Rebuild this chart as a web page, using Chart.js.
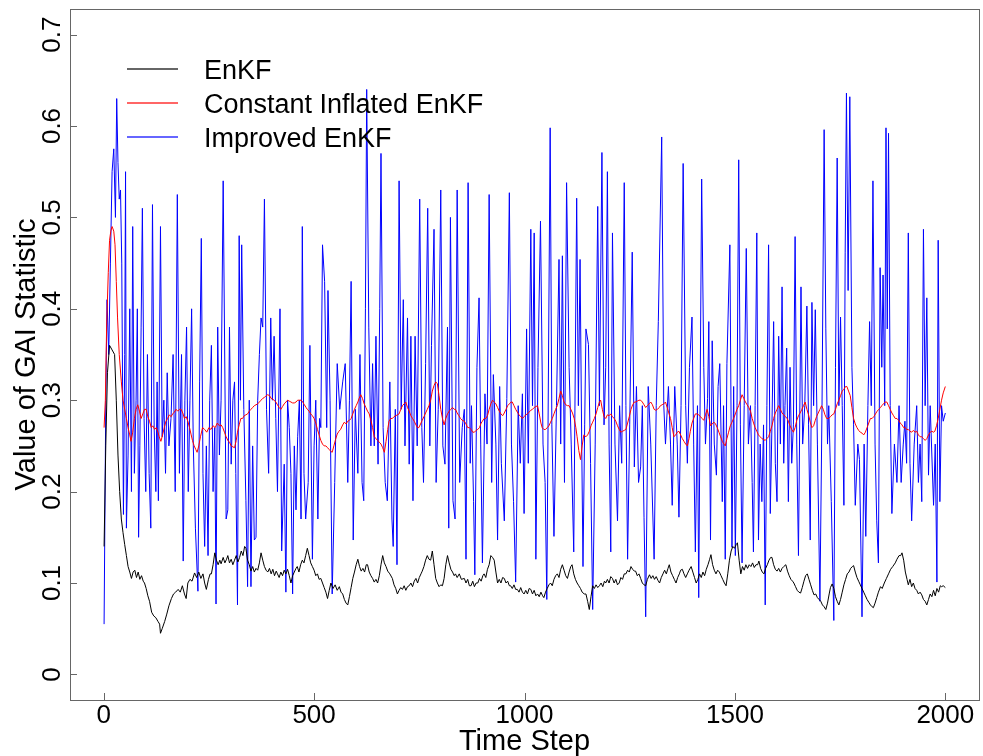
<!DOCTYPE html>
<html>
<head>
<meta charset="utf-8">
<title>GAI statistic</title>
<script src="https://cdn.jsdelivr.net/npm/chart.js@4.4.1/dist/chart.umd.min.js"></script>
<style>
  html, body { margin: 0; padding: 0; background: #fff; }
  #wrap { width: 983px; height: 756px; }
</style>
</head>
<body>
<div id="wrap"><canvas id="gai"></canvas></div>
<script>
const xTicks = [0, 500, 1000, 1500, 2000];
const yTicks = [0, 0.1, 0.2, 0.3, 0.4, 0.5, 0.6, 0.7];
const seriesLabels = ['EnKF', 'Constant Inflated EnKF', 'Improved EnKF'];
const seriesColors = ['#000000', '#ff0000', '#0000ff'];
const xTitle = 'Time Step';
const yTitle = 'Value of GAI Statistic';

// [time step, value]
const enkf = [
  [1,.14],[5,.25],[9,.33],[14,.36],[20,.355],[26,.35],[30,.30],[34,.24],[38,.20],[42,.17],
  [46,.155],[50,.142],[54,.13],[58,.118],[62,.112],[66,.105],[70,.112],[74,.114],[78,.106],[82,.112],
  [86,.104],[90,.108],[94,.102],[97,.10],[101,.094],[105,.086],[109,.08],[114,.068],[119,.064],[124,.062],
  [129,.058],[133,.055],[135,.045],[139,.05],[145,.058],[150,.066],[155,.075],[161,.083],[166,.088],[171,.09],
  [177,.093],[182,.09],[187,.097],[192,.088],[196,.083],[200,.10],[205,.104],[210,.102],[216,.111],[221,.106],
  [226,.112],[231,.105],[236,.11],[240,.10],[244,.093],[249,.104],[253,.11],[256,.11],[260,.12],[264,.133],
  [268,.125],[272,.12],[276,.125],[279,.121],[284,.128],[288,.122],[292,.126],[295,.13],[299,.122],[303,.126],
  [307,.12],[311,.125],[315,.13],[319,.123],[323,.128],[327,.135],[331,.13],[335,.14],[338,.138],[342,.125],
  [346,.12],[350,.113],[354,.118],[358,.112],[362,.116],[366,.114],[370,.122],[374,.133],[378,.125],[382,.118],
  [386,.114],[390,.112],[394,.116],[398,.11],[402,.115],[406,.108],[410,.113],[413,.11],[417,.106],[421,.112],
  [425,.108],[429,.114],[433,.11],[437,.115],[441,.108],[445,.10],[449,.108],[453,.112],[457,.116],[460,.118],
  [464,.112],[468,.12],[472,.125],[476,.122],[480,.13],[484,.138],[488,.13],[492,.122],[496,.118],[500,.114],
  [504,.108],[508,.11],[512,.104],[516,.105],[520,.10],[524,.095],[528,.09],[532,.083],[536,.092],[540,.10],
  [545,.094],[550,.098],[555,.092],[560,.096],[564,.09],[568,.088],[572,.082],[576,.078],[580,.076],[584,.085],
  [588,.095],[592,.105],[596,.112],[600,.12],[604,.126],[608,.118],[612,.113],[616,.116],[620,.112],[624,.12],
  [627,.12],[631,.112],[635,.108],[639,.105],[643,.101],[647,.104],[651,.10],[655,.108],[659,.12],[663,.13],
  [667,.122],[671,.118],[675,.113],[680,.11],[686,.105],[690,.098],[694,.094],[698,.088],[702,.092],[706,.095],
  [710,.093],[714,.097],[718,.092],[722,.096],[726,.097],[730,.10],[734,.096],[738,.102],[742,.105],[746,.10],
  [750,.106],[754,.11],[757,.113],[761,.118],[765,.125],[769,.13],[773,.126],[777,.125],[781,.135],[785,.12],
  [789,.105],[793,.10],[797,.096],[801,.098],[805,.097],[809,.105],[813,.12],[817,.13],[821,.122],[825,.115],
  [829,.112],[833,.108],[836,.11],[840,.106],[845,.11],[850,.104],[857,.105],[861,.10],[865,.104],[869,.097],
  [873,.097],[877,.102],[881,.096],[885,.10],[889,.10],[893,.105],[897,.102],[901,.108],[904,.11],[908,.106],
  [912,.115],[916,.12],[920,.13],[924,.128],[928,.125],[932,.112],[936,.10],[940,.104],[944,.10],[948,.106],
  [952,.105],[956,.10],[960,.102],[964,.097],[967,.097],[971,.094],[975,.098],[979,.093],[983,.093],[987,.09],
  [991,.095],[995,.09],[999,.088],[1003,.092],[1007,.088],[1011,.094],[1015,.093],[1019,.088],[1023,.092],[1027,.086],
  [1031,.088],[1035,.085],[1039,.09],[1043,.086],[1046,.084],[1050,.09],[1054,.094],[1058,.098],[1062,.10],[1066,.097],
  [1070,.104],[1074,.108],[1078,.11],[1082,.106],[1086,.115],[1090,.12],[1094,.114],[1098,.108],[1102,.105],[1106,.112],
  [1110,.118],[1113,.12],[1117,.11],[1121,.104],[1125,.10],[1129,.097],[1133,.094],[1137,.09],[1142,.088],[1146,.088],
  [1150,.08],[1154,.071],[1158,.085],[1162,.097],[1166,.094],[1170,.098],[1174,.095],[1178,.097],[1182,.10],[1186,.096],
  [1190,.102],[1193,.10],[1197,.104],[1201,.10],[1205,.107],[1209,.105],[1213,.10],[1217,.104],[1221,.098],[1225,.10],
  [1229,.106],[1233,.104],[1237,.11],[1241,.11],[1245,.114],[1249,.112],[1253,.118],[1257,.115],[1261,.113],[1264,.113],
  [1268,.108],[1272,.11],[1276,.105],[1280,.10],[1284,.098],[1288,.097],[1292,.104],[1297,.109],[1301,.105],[1305,.108],
  [1309,.104],[1313,.107],[1317,.103],[1321,.10],[1325,.106],[1329,.11],[1333,.114],[1337,.11],[1341,.116],[1344,.12],
  [1348,.112],[1352,.108],[1356,.104],[1360,.10],[1364,.106],[1368,.11],[1371,.114],[1375,.115],[1379,.11],[1383,.106],
  [1387,.11],[1391,.114],[1396,.118],[1400,.112],[1404,.106],[1408,.10],[1412,.104],[1416,.11],[1420,.106],[1424,.112],
  [1428,.108],[1432,.115],[1436,.12],[1440,.126],[1443,.131],[1447,.12],[1451,.114],[1455,.11],[1459,.114],[1463,.112],
  [1467,.108],[1471,.104],[1475,.10],[1479,.097],[1483,.11],[1487,.125],[1491,.135],[1495,.14],[1499,.138],[1503,.142],
  [1506,.144],[1510,.125],[1514,.11],[1518,.118],[1522,.114],[1526,.12],[1530,.116],[1534,.12],[1538,.118],[1542,.122],
  [1546,.117],[1550,.12],[1554,.12],[1557,.124],[1561,.116],[1565,.112],[1569,.11],[1573,.116],[1577,.12],[1581,.125],
  [1585,.128],[1588,.128],[1592,.12],[1596,.115],[1600,.113],[1604,.116],[1608,.112],[1612,.116],[1616,.118],[1621,.12],
  [1625,.113],[1629,.108],[1633,.104],[1637,.102],[1640,.10],[1644,.096],[1648,.092],[1652,.09],[1656,.089],[1660,.095],
  [1664,.102],[1668,.108],[1672,.11],[1676,.104],[1680,.098],[1684,.092],[1688,.087],[1692,.088],[1696,.084],[1700,.082],
  [1704,.08],[1708,.076],[1712,.074],[1716,.071],[1720,.078],[1724,.088],[1727,.095],[1731,.099],[1735,.094],[1739,.085],
  [1743,.08],[1747,.076],[1751,.082],[1755,.09],[1759,.098],[1763,.104],[1767,.11],[1771,.112],[1775,.116],[1779,.118],
  [1782,.119],[1786,.112],[1790,.106],[1794,.102],[1798,.098],[1802,.094],[1806,.09],[1810,.086],[1814,.082],[1818,.079],
  [1822,.076],[1826,.074],[1829,.073],[1833,.078],[1837,.084],[1841,.09],[1846,.096],[1850,.094],[1855,.10],[1860,.105],
  [1865,.11],[1870,.115],[1875,.118],[1881,.122],[1885,.126],[1890,.13],[1894,.13],[1897,.133],[1901,.125],[1905,.112],
  [1909,.104],[1912,.098],[1916,.104],[1920,.096],[1924,.10],[1928,.094],[1932,.092],[1936,.088],[1940,.09],[1944,.087],
  [1948,.082],[1952,.08],[1956,.076],[1960,.082],[1964,.088],[1968,.085],[1972,.092],[1976,.086],[1980,.094],[1984,.09],
  [1988,.097],[1991,.096],[1995,.097],[2000,.095]
];

const inflated = [
  [1,.27],[4,.30],[7,.38],[11,.44],[14,.475],[17,.485],[20,.49],[24,.485],[27,.47],[30,.43],
  [33,.39],[37,.35],[42,.32],[46,.30],[50,.29],[54,.28],[58,.27],[62,.262],[65,.255],[69,.265],
  [73,.28],[77,.29],[81,.295],[85,.288],[89,.28],[93,.285],[97,.29],[101,.29],[105,.282],[109,.277],
  [113,.27],[117,.272],[121,.268],[125,.27],[129,.265],[132,.26],[136,.255],[140,.262],[144,.27],[148,.277],
  [152,.28],[156,.284],[160,.282],[164,.285],[168,.287],[172,.29],[176,.288],[180,.29],[184,.29],[188,.286],
  [192,.28],[196,.282],[200,.277],[204,.27],[208,.262],[211,.256],[215,.25],[219,.246],[222,.243],[226,.25],
  [230,.26],[235,.27],[240,.268],[245,.265],[250,.27],[255,.268],[260,.272],[265,.27],[270,.275],[275,.272],
  [279,.273],[283,.27],[287,.265],[291,.26],[295,.256],[299,.254],[303,.25],[307,.249],[311,.248],[315,.256],
  [318,.265],[322,.273],[326,.28],[330,.28],[334,.283],[338,.284],[342,.285],[346,.288],[350,.29],[354,.292],
  [358,.294],[362,.295],[366,.296],[370,.298],[374,.30],[378,.302],[382,.303],[386,.305],[390,.306],[394,.305],
  [398,.302],[402,.301],[405,.30],[409,.298],[413,.295],[417,.292],[421,.29],[425,.293],[429,.296],[433,.298],
  [437,.30],[441,.299],[445,.298],[449,.297],[453,.297],[457,.298],[461,.30],[465,.30],[469,.30],[473,.298],
  [477,.295],[481,.292],[484,.29],[488,.288],[492,.285],[496,.283],[500,.28],[504,.275],[508,.268],[512,.262],
  [516,.256],[520,.252],[524,.25],[528,.25],[532,.248],[536,.246],[540,.244],[543,.243],[547,.25],[551,.257],
  [555,.263],[559,.266],[563,.268],[568,.273],[572,.276],[576,.274],[580,.277],[584,.278],[588,.28],[592,.285],
  [596,.29],[600,.294],[604,.298],[607,.302],[611,.306],[615,.302],[619,.296],[623,.292],[627,.288],[631,.285],
  [635,.278],[639,.27],[643,.26],[647,.258],[651,.256],[655,.254],[659,.252],[663,.248],[667,.243],[671,.255],
  [675,.268],[678,.277],[682,.28],[686,.28],[690,.282],[694,.283],[698,.284],[702,.285],[706,.29],[710,.294],
  [714,.296],[718,.298],[722,.292],[726,.288],[730,.283],[734,.28],[738,.277],[742,.273],[746,.27],[749,.27],
  [753,.274],[757,.278],[761,.282],[765,.286],[769,.29],[773,.294],[777,.30],[781,.31],[785,.316],[789,.32],
  [793,.318],[797,.305],[801,.29],[805,.28],[809,.273],[813,.28],[817,.285],[821,.288],[825,.29],[829,.292],
  [833,.29],[836,.29],[840,.286],[844,.283],[848,.28],[852,.278],[857,.277],[861,.274],[865,.27],[869,.27],
  [873,.268],[877,.265],[881,.265],[885,.267],[889,.268],[893,.27],[897,.275],[900,.277],[904,.28],[908,.28],
  [912,.283],[916,.29],[920,.296],[924,.30],[928,.298],[932,.296],[936,.292],[940,.288],[944,.285],[948,.283],
  [952,.286],[956,.29],[960,.294],[964,.296],[968,.298],[971,.298],[975,.294],[979,.29],[983,.287],[987,.284],
  [991,.282],[995,.28],[999,.282],[1003,.284],[1007,.285],[1011,.287],[1015,.289],[1019,.29],[1023,.292],[1027,.293],
  [1031,.294],[1035,.285],[1039,.275],[1042,.27],[1046,.268],[1050,.268],[1054,.27],[1058,.272],[1062,.276],[1066,.28],
  [1070,.285],[1074,.29],[1078,.294],[1082,.302],[1086,.31],[1090,.305],[1094,.298],[1098,.295],[1102,.294],[1106,.294],
  [1110,.29],[1114,.286],[1118,.28],[1122,.27],[1125,.26],[1129,.245],[1133,.235],[1137,.25],[1141,.262],[1146,.26],
  [1150,.262],[1154,.266],[1158,.272],[1162,.276],[1166,.28],[1170,.285],[1174,.292],[1178,.298],[1181,.30],[1185,.29],
  [1189,.282],[1193,.28],[1197,.284],[1201,.283],[1205,.285],[1209,.282],[1213,.28],[1217,.277],[1221,.272],[1225,.268],
  [1229,.265],[1233,.266],[1237,.267],[1241,.268],[1245,.275],[1249,.282],[1253,.29],[1257,.295],[1261,.298],[1264,.298],
  [1268,.299],[1272,.30],[1276,.30],[1280,.298],[1284,.295],[1288,.292],[1292,.294],[1296,.296],[1300,.298],[1304,.295],
  [1308,.29],[1312,.289],[1316,.29],[1320,.292],[1323,.294],[1327,.295],[1331,.296],[1335,.298],[1339,.292],[1343,.286],
  [1347,.28],[1351,.27],[1355,.26],[1359,.262],[1363,.265],[1367,.266],[1371,.262],[1375,.258],[1379,.255],[1383,.252],
  [1387,.25],[1391,.258],[1394,.266],[1398,.275],[1402,.28],[1406,.285],[1410,.285],[1414,.284],[1418,.282],[1422,.28],
  [1426,.278],[1430,.284],[1434,.29],[1438,.282],[1442,.272],[1446,.274],[1450,.276],[1454,.274],[1458,.27],[1462,.265],
  [1466,.26],[1470,.255],[1474,.252],[1477,.25],[1481,.258],[1485,.265],[1489,.272],[1493,.276],[1497,.28],[1501,.285],
  [1505,.29],[1509,.294],[1513,.30],[1517,.306],[1521,.302],[1525,.298],[1529,.295],[1533,.292],[1537,.288],[1541,.28],
  [1545,.274],[1548,.27],[1552,.266],[1556,.262],[1560,.26],[1564,.258],[1568,.257],[1572,.256],[1576,.258],[1580,.26],
  [1584,.266],[1588,.272],[1592,.28],[1596,.286],[1600,.29],[1604,.294],[1608,.29],[1612,.286],[1616,.284],[1620,.282],
  [1624,.28],[1627,.277],[1631,.272],[1635,.268],[1639,.265],[1643,.27],[1647,.278],[1651,.283],[1655,.286],[1659,.29],
  [1663,.294],[1667,.298],[1671,.29],[1675,.284],[1679,.276],[1683,.27],[1687,.272],[1691,.278],[1694,.282],[1698,.286],
  [1702,.29],[1706,.294],[1710,.29],[1714,.284],[1718,.28],[1723,.28],[1727,.282],[1731,.284],[1735,.285],[1739,.29],
  [1743,.296],[1747,.30],[1751,.305],[1755,.31],[1759,.312],[1763,.315],[1766,.315],[1770,.31],[1774,.305],[1778,.292],
  [1782,.28],[1786,.274],[1790,.27],[1794,.267],[1798,.265],[1802,.264],[1806,.262],[1810,.265],[1814,.27],[1818,.275],
  [1822,.28],[1826,.28],[1830,.282],[1834,.285],[1838,.288],[1842,.29],[1846,.292],[1849,.294],[1853,.296],[1857,.298],
  [1861,.298],[1865,.294],[1869,.29],[1873,.286],[1877,.283],[1881,.28],[1885,.28],[1889,.278],[1893,.275],[1897,.273],
  [1901,.27],[1905,.27],[1908,.268],[1912,.268],[1916,.266],[1920,.265],[1924,.267],[1928,.265],[1932,.266],[1936,.262],
  [1940,.26],[1944,.26],[1948,.258],[1952,.256],[1956,.258],[1960,.262],[1964,.265],[1968,.266],[1972,.265],[1975,.266],
  [1979,.272],[1983,.28],[1987,.29],[1991,.30],[1995,.308],[2000,.315]
];

const improved = [
  [1,.055],[5,.30],[8,.41],[12,.35],[16,.45],[20,.55],[24,.575],[28,.50],[31,.63],[34,.56],
  [37,.52],[40,.53],[43,.45],[47,.175],[50,.35],[52,.55],[54,.16],[58,.24],[62,.40],[66,.20],
  [69,.49],[73,.22],[77,.30],[80,.40],[83,.15],[86,.25],[89,.38],[92,.51],[96,.28],[100,.20],
  [104,.35],[108,.22],[112,.16],[116,.514],[120,.27],[124,.20],[127,.32],[130,.19],[135,.49],[139,.26],
  [143,.30],[147,.22],[151,.33],[155,.25],[160,.28],[165,.35],[170,.20],[175,.525],[180,.22],[185,.35],
  [189,.124],[193,.30],[197,.38],[201,.20],[205,.30],[209,.40],[213,.25],[218,.16],[224,.091],[228,.32],
  [232,.477],[236,.22],[240,.14],[244,.25],[248,.13],[252,.30],[256,.36],[260,.20],[264,.27],[267,.077],
  [271,.38],[275,.24],[279,.30],[284,.54],[291,.17],[295,.18],[299,.38],[303,.23],[307,.30],[311,.32],
  [314,.22],[318,.076],[322,.48],[325,.30],[328,.47],[333,.29],[338,.19],[342,.096],[346,.30],[350,.096],
  [354,.25],[358,.147],[362,.15],[366,.30],[370,.35],[374,.39],[378,.38],[382,.52],[387,.29],[392,.22],
  [397,.39],[401,.30],[405,.37],[409,.28],[413,.20],[419,.40],[423,.135],[429,.23],[433,.09],[437,.30],
  [441,.27],[445,.22],[449,.088],[453,.25],[457,.18],[461,.26],[465,.30],[469,.17],[472,.49],[476,.22],
  [480,.17],[486,.21],[490,.36],[496,.126],[500,.25],[504,.30],[509,.17],[513,.28],[516,.27],[520,.47],
  [525,.43],[530,.27],[533,.42],[538,.30],[543,.088],[549,.21],[555,.34],[561,.29],[568,.32],[574,.34],
  [580,.21],[584,.30],[588,.43],[593,.147],[598,.29],[604,.22],[609,.35],[614,.21],[618,.19],[622,.40],
  [625,.64],[630,.38],[635,.25],[639,.34],[643,.25],[647,.37],[652,.23],[656,.40],[659,.57],[664,.27],
  [669,.21],[674,.19],[680,.32],[685,.17],[688,.14],[693,.29],[697,.12],[702,.54],[707,.29],[712,.41],
  [716,.25],[722,.39],[726,.23],[730,.37],[735,.19],[740,.37],[745,.25],[751,.52],[756,.27],[760,.21],
  [765,.34],[770,.51],[775,.25],[779,.36],[785,.487],[790,.21],[795,.29],[801,.53],[806,.25],[811,.23],
  [817,.38],[820,.16],[824,.50],[830,.19],[835,.17],[840,.53],[846,.21],[852,.27],[857,.29],[861,.126],
  [866,.538],[871,.231],[874,.294],[879,.189],[882,.109],[887,.336],[892,.412],[896,.252],[900,.122],[906,.307],
  [911,.252],[916,.525],[922,.21],[926,.328],[932,.252],[936,.147],[941,.315],[945,.231],[952,.168],[958,.302],
  [964,.527],[969,.252],[974,.189],[979,.101],[985,.294],[990,.231],[995,.307],[999,.176],[1005,.378],[1009,.231],
  [1015,.487],[1019,.294],[1023,.483],[1027,.126],[1032,.336],[1038,.496],[1044,.252],[1049,.21],[1053,.082],[1061,.598],
  [1065,.273],[1070,.151],[1076,.294],[1082,.454],[1086,.252],[1090,.458],[1095,.21],[1100,.538],[1106,.336],[1111,.252],
  [1117,.134],[1124,.521],[1128,.294],[1132,.454],[1136,.252],[1139,.118],[1143,.273],[1146,.378],[1152,.361],[1157,.231],
  [1162,.071],[1168,.252],[1174,.512],[1178,.294],[1184,.571],[1189,.273],[1193,.336],[1197,.55],[1201,.252],[1205,.134],
  [1209,.483],[1215,.252],[1221,.168],[1226,.294],[1231,.231],[1237,.538],[1241,.294],[1245,.126],[1250,.273],[1256,.462],
  [1261,.227],[1266,.315],[1271,.21],[1276,.227],[1280,.294],[1284,.172],[1288,.063],[1294,.315],[1300,.252],[1308,.126],
  [1313,.294],[1318,.386],[1326,.588],[1331,.294],[1335,.252],[1342,.315],[1347,.252],[1351,.185],[1357,.315],[1363,.252],
  [1367,.172],[1372,.294],[1377,.559],[1383,.294],[1387,.231],[1392,.336],[1398,.391],[1402,.252],[1406,.134],[1411,.294],
  [1414,.084],[1421,.542],[1426,.336],[1430,.252],[1435,.302],[1438,.386],[1442,.147],[1446,.365],[1451,.252],[1456,.218],
  [1460,.315],[1464,.34],[1470,.189],[1473,.294],[1477,.126],[1481,.34],[1488,.47],[1493,.139],[1497,.315],[1501,.13],
  [1505,.294],[1509,.563],[1513,.273],[1517,.122],[1522,.294],[1527,.466],[1532,.252],[1537,.294],[1541,.21],[1544,.134],
  [1548,.294],[1552,.483],[1556,.147],[1560,.252],[1564,.189],[1568,.273],[1572,.076],[1576,.294],[1580,.47],[1584,.176],
  [1588,.273],[1592,.386],[1596,.231],[1600,.189],[1604,.37],[1608,.252],[1612,.424],[1616,.231],[1619,.294],[1623,.357],
  [1627,.189],[1631,.336],[1635,.231],[1639,.273],[1643,.479],[1647,.252],[1651,.13],[1657,.424],[1661,.252],[1666,.294],
  [1671,.403],[1675,.273],[1679,.147],[1683,.407],[1687,.294],[1691,.399],[1696,.252],[1702,.08],[1707,.294],[1712,.596],
  [1716,.378],[1720,.252],[1723,.294],[1729,.189],[1735,.059],[1739,.336],[1743,.565],[1747,.294],[1751,.391],[1755,.294],
  [1759,.185],[1762,.462],[1765,.636],[1769,.42],[1773,.632],[1778,.336],[1782,.273],[1786,.185],[1792,.252],[1796,.235],
  [1802,.063],[1807,.252],[1811,.151],[1816,.294],[1820,.386],[1824,.294],[1828,.54],[1833,.252],[1837,.168],[1841,.122],
  [1845,.445],[1849,.336],[1852,.437],[1856,.294],[1859,.598],[1862,.378],[1865,.592],[1869,.294],[1873,.176],[1879,.252],
  [1885,.21],[1890,.294],[1895,.21],[1900,.252],[1904,.277],[1908,.231],[1912,.483],[1916,.231],[1920,.168],[1926,.252],
  [1932,.294],[1936,.21],[1940,.252],[1944,.189],[1948,.487],[1952,.294],[1956,.412],[1960,.218],[1964,.294],[1972,.185],
  [1976,.252],[1980,.101],[1983,.475],[1987,.189],[1991,.294],[1995,.277],[2000,.286]
];

const FONT = '"Liberation Sans", Arial, Helvetica, sans-serif';

const toPoints = list => list.map(([x, y]) => ({ x, y }));

// R style frame: box, inward ticks, rotated y labels, axis titles
const rFrame = {
  id: 'rFrame',
  afterDraw(chart) {
    const { ctx, chartArea: a, scales: { x, y } } = chart;
    ctx.save();

    ctx.strokeStyle = '#666';
    ctx.lineWidth = 1;
    ctx.strokeRect(a.left + 0.5, a.top + 0.5, a.right - a.left, a.bottom - a.top);

    ctx.beginPath();
    xTicks.forEach(v => {
      const px = Math.round(x.getPixelForValue(v)) + 0.5;
      ctx.moveTo(px, a.bottom);
      ctx.lineTo(px, a.bottom - 7);
    });
    yTicks.forEach(v => {
      const py = Math.round(y.getPixelForValue(v)) + 0.5;
      ctx.moveTo(a.left, py);
      ctx.lineTo(a.left + 7, py);
    });
    ctx.stroke();

    ctx.fillStyle = '#000';
    ctx.font = '26px ' + FONT;
    ctx.textAlign = 'center';
    ctx.textBaseline = 'alphabetic';
    xTicks.forEach(v => ctx.fillText(String(v), x.getPixelForValue(v), a.bottom + 23));
    yTicks.forEach(v => {
      ctx.save();
      ctx.translate(a.left - 10, y.getPixelForValue(v));
      ctx.rotate(-Math.PI / 2);
      ctx.fillText(v === 0 ? '0' : v.toFixed(1), 0, 0);
      ctx.restore();
    });

    ctx.font = '29px ' + FONT;
    ctx.fillText(xTitle, (a.left + a.right) / 2, a.bottom + 50);
    ctx.save();
    ctx.translate(35, (a.top + a.bottom) / 2);
    ctx.rotate(-Math.PI / 2);
    ctx.fillText(yTitle, 0, 0);
    ctx.restore();

    ctx.restore();
  }
};

// legend without a box, top left inside the plot
const rLegend = {
  id: 'rLegend',
  afterDraw(chart) {
    const { ctx } = chart;
    ctx.save();
    ctx.font = '27px ' + FONT;
    ctx.textAlign = 'left';
    ctx.textBaseline = 'alphabetic';
    seriesLabels.forEach((label, i) => {
      const rowY = 69 + i * 34;
      ctx.strokeStyle = seriesColors[i];
      ctx.globalAlpha = 0.8;
      ctx.lineWidth = 1.4;
      ctx.beginPath();
      ctx.moveTo(127, rowY);
      ctx.lineTo(178, rowY);
      ctx.stroke();
      ctx.globalAlpha = 1;
      ctx.fillStyle = '#000';
      ctx.fillText(label, 204, rowY + 10);
    });
    ctx.restore();
  }
};

const series = [enkf, inflated, improved];

new Chart(document.getElementById('gai'), {
  type: 'line',
  data: {
    datasets: series.map((list, i) => ({
      label: seriesLabels[i],
      data: toPoints(list),
      borderColor: seriesColors[i],
      backgroundColor: seriesColors[i],
      borderWidth: 1,
      pointRadius: 0,
      tension: 0,
      fill: false
    }))
  },
  options: {
    responsive: true,
    maintainAspectRatio: false,
    animation: false,
    events: [],
    layout: { padding: { left: 70, top: 9, right: 4, bottom: 56 } },
    scales: {
      x: { type: 'linear', min: -80, max: 2080, display: false },
      y: { type: 'linear', min: -0.028, max: 0.728, display: false }
    },
    plugins: {
      legend: { display: false },
      tooltip: { enabled: false }
    }
  },
  plugins: [rFrame, rLegend]
});
</script>
</body>
</html>
